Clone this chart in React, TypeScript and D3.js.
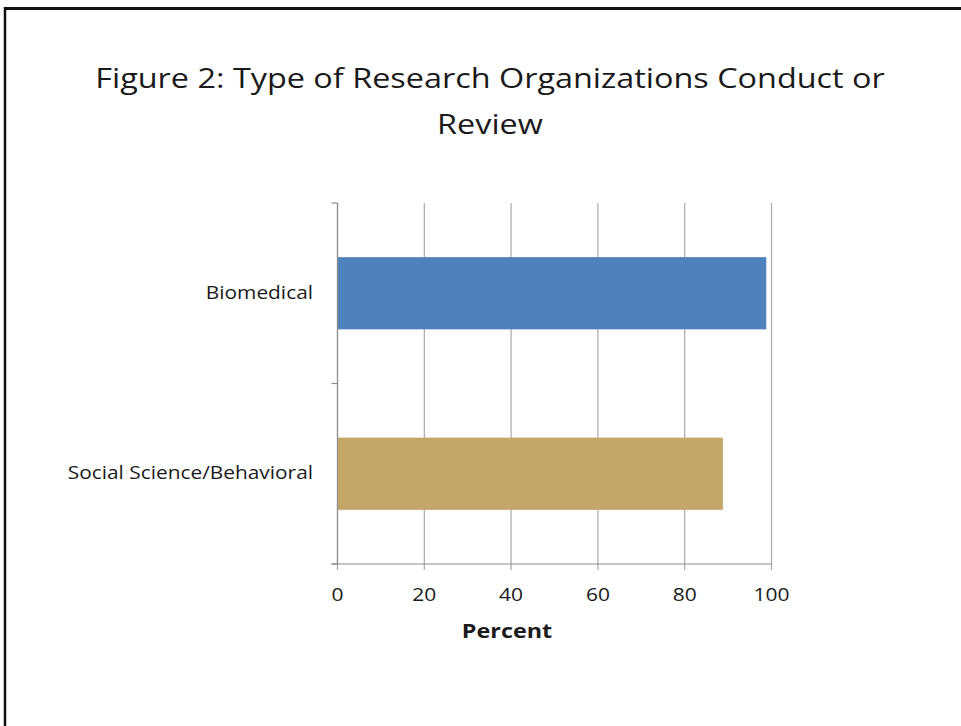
import React from "react";
import * as d3 from "d3";

const categories = ["Biomedical", "Social Science/Behavioral"];
const values = [98.8, 88.8];
const colors = ["#4f81bd", "#c4a668"];
const xTicks = [0, 20, 40, 60, 80, 100];
const titleLines = ["Figure 2: Type of Research Organizations Conduct or", "Review"];
const xTitle = "Percent";

const W = 961;
const H = 726;
const FONT = "'Open Sans', sans-serif";
const SX = 1.2;

function SText(props: { x: number; y: number; anchor: string; size: number; weight?: string; children: React.ReactNode }) {
  return (
    <text
      transform={`translate(${props.x},${props.y}) scale(${SX},1)`}
      textAnchor={props.anchor}
      fontFamily={FONT}
      fontSize={props.size}
      fontWeight={props.weight || "normal"}
      fill="#1a1a1a"
    >
      {props.children}
    </text>
  );
}

export default function App() {
  const x = d3.scaleLinear().domain([0, 100]).range([337.5, 771.5]);
  const y = d3.scaleBand().domain(categories).range([203, 564]).paddingInner(0.6).paddingOuter(0.3);
  const bandFull = d3.scaleBand().domain(categories).range([203, 564]);
  const top = 203;
  const bottom = 564;
  return (
    <svg width={W} height={H} style={{ position: "absolute", left: 0, top: 0, background: "#fff" }}>
      <rect x={0} y={0} width={W} height={H} fill="#fff" />
      <line x1={5} y1={8.5} x2={W} y2={8.5} stroke="#111" strokeWidth={3} />
      <line x1={5} y1={7} x2={5} y2={H} stroke="#111" strokeWidth={2.5} />
      {titleLines.map((t, i) => (
        <SText key={i} x={490} y={88 + i * 46} anchor="middle" size={27}>
          {t}
        </SText>
      ))}
      {xTicks.map((t) => (
        <line key={"g" + t} x1={x(t)} x2={x(t)} y1={top} y2={bottom + 6} stroke="#a8a8a8" strokeWidth={1.2} />
      ))}
      {categories.map((c, i) => (
        <rect key={c} x={x(0)} y={y(c)} width={x(values[i]) - x(0)} height={y.bandwidth()} fill={colors[i]} />
      ))}
      <line x1={x(0)} x2={x(0)} y1={top} y2={bottom} stroke="#8c8c8c" strokeWidth={1.2} />
      {[top, (top + bottom) / 2, bottom].map((v, i) => (
        <line key={"yt" + i} x1={x(0) - 6} x2={x(0)} y1={v} y2={v} stroke="#8c8c8c" strokeWidth={1.2} />
      ))}
      <line x1={x(0) - 6} x2={x(100)} y1={bottom} y2={bottom} stroke="#8c8c8c" strokeWidth={1.2} />
      {xTicks.map((t) => (
        <SText key={"xl" + t} x={x(t)} y={601} anchor="middle" size={17.5}>
          {t}
        </SText>
      ))}
      {categories.map((c) => (
        <SText key={"yl" + c} x={313} y={(bandFull(c) as number) + bandFull.bandwidth() / 2 + 5.5} anchor="end" size={17.4}>
          {c}
        </SText>
      ))}
      <SText x={507} y={638} anchor="middle" size={19.5} weight="bold">
        {xTitle}
      </SText>
    </svg>
  );
}
